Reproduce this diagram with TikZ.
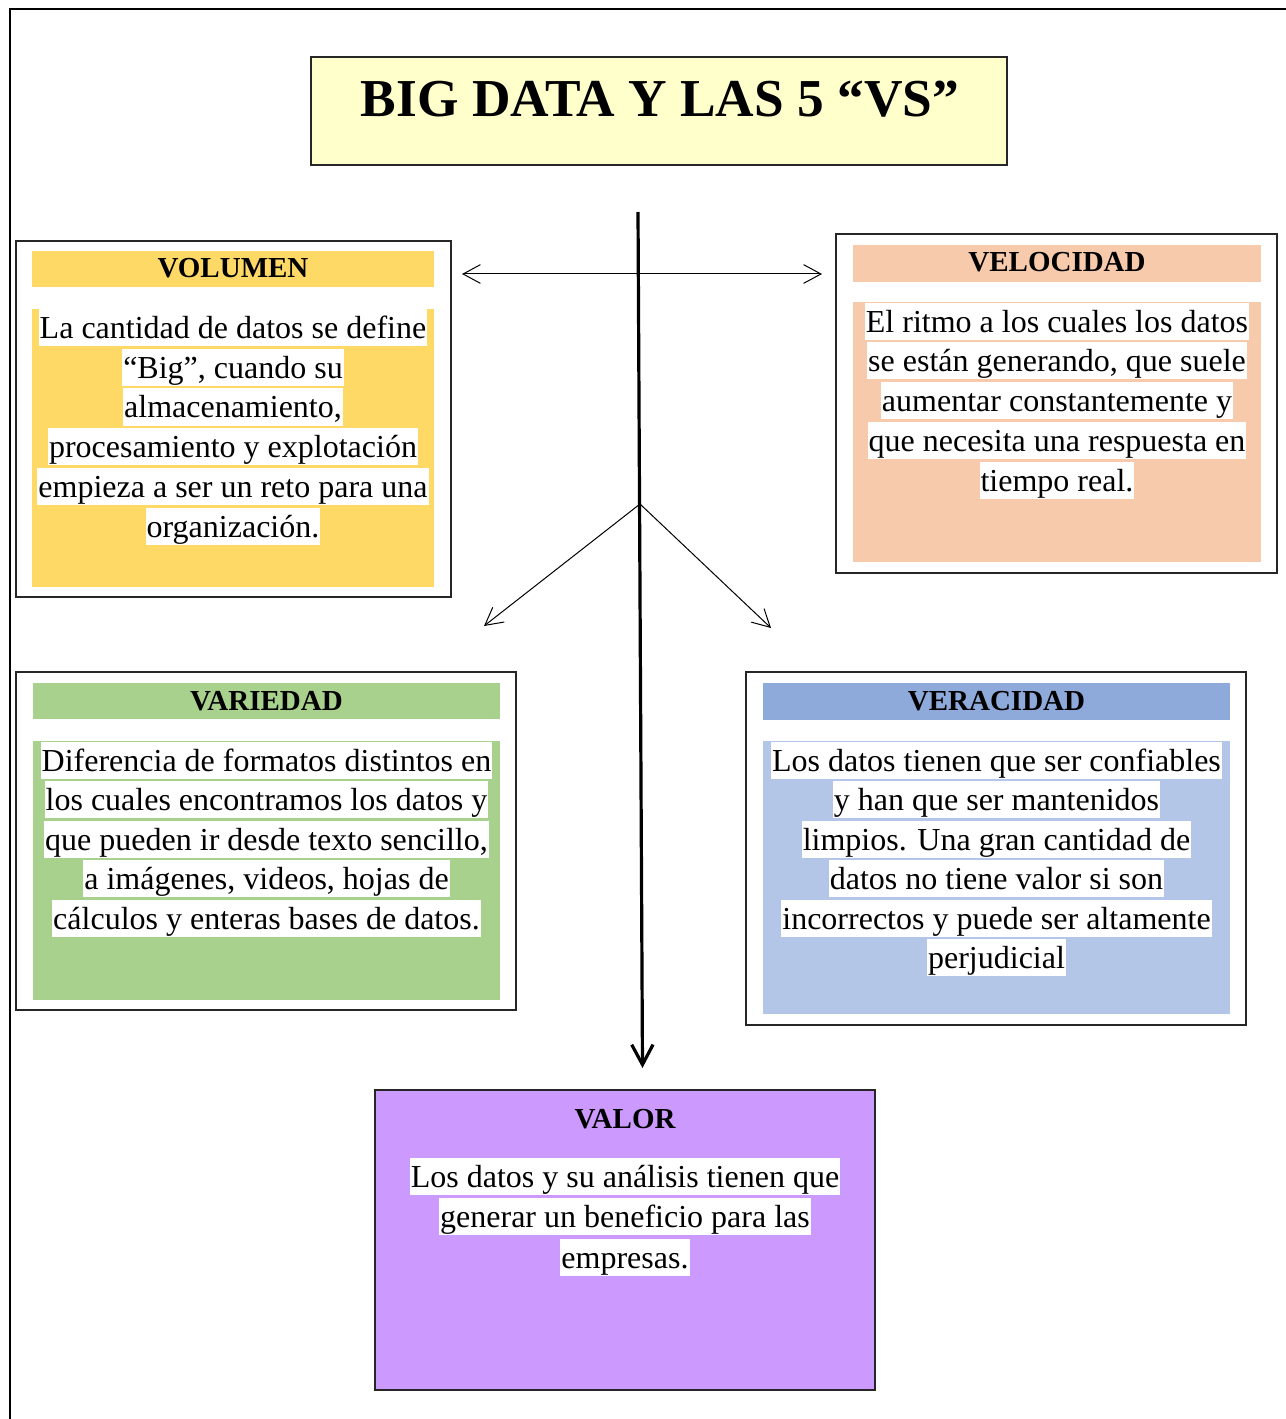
\documentclass[tikz,border=0pt]{standalone}
\usepackage{fontspec}
\setmainfont{Liberation Serif}
\usetikzlibrary{arrows.meta,fit}
\definecolor{titlefill}{HTML}{FFFFCC}
\definecolor{volcol}{HTML}{FFD966}
\definecolor{velcol}{HTML}{F7CAAC}
\definecolor{varcol}{HTML}{A9D18E}
\definecolor{verhead}{HTML}{8EAADB}
\definecolor{verbody}{HTML}{B4C6E7}
\definecolor{valcol}{HTML}{CC99FF}
\tikzset{
  boxframe/.style={draw=black!85, line width=1.1pt, inner sep=0pt},
  fillrect/.style={fill=#1, draw=none, inner sep=0pt},
  headtxt/.style={anchor=base, inner sep=0pt, font=\fontsize{21.75}{26}\selectfont\bfseries},
  bodyline/.style={anchor=base, fill=white, inner xsep=0.8pt, inner ysep=0pt,
                   text height=22.1pt, text depth=5.7pt, font=\fontsize{24}{30}\selectfont},
  thinarrow/.style={line width=0.75pt, -{Straight Barb[length=13pt,width=14pt]}},
  mainarrow/.style={line width=2.4pt, -{Straight Barb[length=15pt,width=16pt]}}
}
\begin{document}
\begin{tikzpicture}[x=0.75pt,y=-0.75pt]
\useasboundingbox (0,0) rectangle (1285,1419);
% page frame
\draw[line width=1.5pt] (10,1425) -- (10,9) -- (1290,9);

% title
\node[boxframe, fill=titlefill, fit={(311,57) (1007,165)}] (titlebox) {};
\node[anchor=base, inner sep=0pt, font=\fontsize{40}{48}\selectfont\bfseries] (titletxt) at (660,117) {BIG DATA Y LAS 5 “VS”};

% VOLUMEN
\node[boxframe, fit={(16,241) (451,597)}] (volbox) {};
\node[fillrect=volcol, fit={(32,251) (434,287)}] (volhead) {};
\node[fillrect=volcol, fit={(32,309) (434,587)}] (volbody) {};
\node[headtxt] (voltitle) at (233,278) {VOLUMEN};
\node[bodyline] (vol1) at (233,338.5) {La cantidad de datos se define};
\node[bodyline] (vol2) at (233,378.2) {“Big”, cuando su};
\node[bodyline] (vol3) at (233,417.9) {almacenamiento,};
\node[bodyline] (vol4) at (233,457.6) {procesamiento y explotación};
\node[bodyline] (vol5) at (233,497.3) {empieza a ser un reto para una};
\node[bodyline] (vol6) at (233,537.0) {organización.};

% VELOCIDAD
\node[boxframe, fit={(836,234) (1277,573)}] (velbox) {};
\node[fillrect=velcol, fit={(853,245) (1261,282)}] (velhead) {};
\node[fillrect=velcol, fit={(853,302) (1261,562)}] (velbody) {};
\node[headtxt] (veltitle) at (1057,272) {VELOCIDAD};
\node[bodyline] (vel1) at (1057,332.0) {El ritmo a los cuales los datos};
\node[bodyline] (vel2) at (1057,371.8) {se están generando, que suele};
\node[bodyline] (vel3) at (1057,411.6) {aumentar constantemente y};
\node[bodyline] (vel4) at (1057,451.4) {que necesita una respuesta en};
\node[bodyline] (vel5) at (1057,491.7) {tiempo real.};

% VARIEDAD
\node[boxframe, fit={(16,672) (516,1010)}] (varbox) {};
\node[fillrect=varcol, fit={(33,683) (500,719)}] (varhead) {};
\node[fillrect=varcol, fit={(33,741) (500,1000)}] (varbody) {};
\node[headtxt] (vartitle) at (266.5,710) {VARIEDAD};
\node[bodyline] (var1) at (266.5,771.0) {Diferencia de formatos distintos en};
\node[bodyline] (var2) at (266.5,810.5) {los cuales encontramos los datos y};
\node[bodyline] (var3) at (266.5,850.0) {que pueden ir desde texto sencillo,};
\node[bodyline] (var4) at (266.5,889.5) {a imágenes, videos, hojas de};
\node[bodyline] (var5) at (266.5,929.0) {cálculos y enteras bases de datos.};

% VERACIDAD
\node[boxframe, fit={(746,672) (1246,1025)}] (verbox) {};
\node[fillrect=verhead, fit={(763,683) (1230,720)}] (verhd) {};
\node[fillrect=verbody, fit={(763,741) (1230,1014)}] (verbd) {};
\node[headtxt] (vertitle) at (996.5,710) {VERACIDAD};
\node[bodyline] (ver1) at (996.5,771.0) {Los datos tienen que ser confiables};
\node[bodyline] (ver2) at (996.5,810.5) {y han que ser mantenidos};
\node[bodyline] (ver3) at (996.5,850.0) {limpios. Una gran cantidad de};
\node[bodyline] (ver4) at (996.5,889.5) {datos no tiene valor si son};
\node[bodyline] (ver5) at (996.5,929.0) {incorrectos y puede ser altamente};
\node[bodyline] (ver6) at (996.5,968.5) {perjudicial};

% VALOR
\node[boxframe, line width=1.6pt, fill=valcol, fit={(375,1090) (875,1390)}] (valbox) {};
\node[headtxt] (valtitle) at (625,1128) {VALOR};
\node[bodyline] (val1) at (625,1187.5) {Los datos y su análisis tienen que};
\node[bodyline] (val2) at (625,1227.0) {generar un beneficio para las};
\node[bodyline] (val3) at (625,1268.0) {empresas.};

% connectors
\coordinate (vtop) at (638,212);
\coordinate (vbot) at (642.5,1068);
\coordinate (hl) at (462,274);
\coordinate (hr) at (822,274);
\coordinate (dorg) at (640,504);
\coordinate (dl) at (484,626);
\coordinate (dr) at (771,628);
\draw[mainarrow] (vtop) -- (vbot);
\draw[thinarrow, {Straight Barb[length=13pt,width=14pt]}-{Straight Barb[length=13pt,width=14pt]}] (hl) -- (hr);
\draw[thinarrow] (dorg) -- (dl);
\draw[thinarrow] (dorg) -- (dr);
\end{tikzpicture}
\end{document}
